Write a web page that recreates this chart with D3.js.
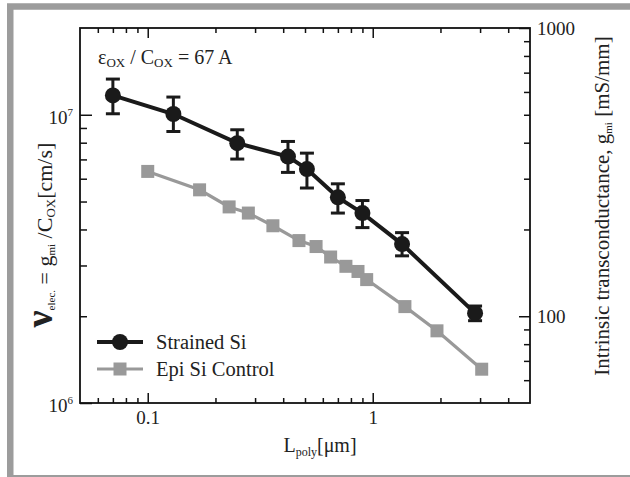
<!DOCTYPE html>
<html>
<head>
<meta charset="utf-8">
<script src="https://cdn.jsdelivr.net/npm/d3@7"></script>
<style>
  body { margin: 0; background: #fff; }
  svg { display: block; font-family: "Liberation Serif", "Times New Roman", serif; }
</style>
</head>
<body>
<div id="chart"></div>
<script>
// Data
var strainedL = [0.07, 0.13, 0.25, 0.42, 0.51, 0.70, 0.90, 1.35, 2.85];
var strainedV = [1.167e7, 1.006e7, 7.97e6, 7.16e6, 6.48e6, 5.17e6, 4.56e6, 3.56e6, 2.05e6];
var strainedHi = [1.33e7, 1.152e7, 8.87e6, 8.08e6, 7.36e6, 5.76e6, 5.04e6, 3.90e6, 2.17e6];
var strainedLo = [1.008e7, 8.75e6, 7.02e6, 6.31e6, 5.57e6, 4.56e6, 4.06e6, 3.24e6, 1.93e6];

var epiL = [0.10, 0.17, 0.23, 0.28, 0.36, 0.47, 0.56, 0.65, 0.76, 0.86, 0.94, 1.39, 1.93, 3.05];
var epiV = [6.36e6, 5.49e6, 4.79e6, 4.56e6, 4.12e6, 3.66e6, 3.49e6, 3.21e6, 2.98e6, 2.86e6, 2.68e6, 2.16e6, 1.78e6, 1.31e6];

var xMajor = [0.1, 1];
var xMinor = [0.06, 0.07, 0.08, 0.09, 0.2, 0.3, 0.4, 0.5, 0.6, 0.7, 0.8, 0.9, 2, 3, 4];
var yMajor = [1e6, 1e7];
var yMinor = [2e6, 3e6, 4e6, 5e6, 6e6, 7e6, 8e6, 9e6];
var rMajor = [100, 1000];
var rMinor = [60, 70, 80, 90, 200, 300, 400, 500, 600, 700, 800, 900];

var legendNames = ["Strained Si", "Epi Si Control"];

var W = 630, H = 477;
// plot box (note: "top" is reserved on window, so use pTop etc.)
var pLeft = 80, pRight = 530, pTop = 28, pBottom = 403;

var svg = d3.select("#chart").append("svg")
    .attr("width", W)
    .attr("height", H);

// gray outer frame (right edge runs off the picture)
svg.append("rect")
    .attr("x", 10.25).attr("y", 6.5)
    .attr("width", 700).attr("height", 471.75)
    .attr("fill", "none")
    .attr("stroke", "#9c9c9c")
    .attr("stroke-width", 6.5);

var x = d3.scaleLog().domain([0.05, 5]).range([pLeft, pRight]);
var y = d3.scaleLog().domain([1e6, 2e7]).range([pBottom, pTop]);
var yR = d3.scaleLog().domain([50, 1000]).range([pBottom, pTop]);

function styleAxis(g) {
    g.select(".domain").remove();
    g.selectAll("line").attr("stroke", "#111").attr("stroke-width", 1.5);
    g.selectAll("text").attr("fill", "#222").style("font-family", "Liberation Serif").style("font-size", "19px");
}

// bottom
svg.append("g").attr("transform", "translate(0," + pBottom + ")")
    .call(d3.axisBottom(x).tickValues(xMajor).tickSize(-10).tickPadding(8).tickFormat(function(d) { return d === 1 ? "1" : "0.1"; }))
    .call(styleAxis);
svg.append("g").attr("transform", "translate(0," + pBottom + ")")
    .call(d3.axisBottom(x).tickValues(xMinor).tickSize(-5).tickFormat(""))
    .call(styleAxis);
// top
svg.append("g").attr("transform", "translate(0," + pTop + ")")
    .call(d3.axisTop(x).tickValues(xMajor).tickSize(-10).tickFormat(""))
    .call(styleAxis);
svg.append("g").attr("transform", "translate(0," + pTop + ")")
    .call(d3.axisTop(x).tickValues(xMinor).tickSize(-5).tickFormat(""))
    .call(styleAxis);
// left
var gl = svg.append("g").attr("transform", "translate(" + pLeft + ",0)")
    .call(d3.axisLeft(y).tickValues(yMajor).tickSize(-12).tickPadding(8).tickFormat(function() { return ""; }))
    .call(styleAxis);
gl.selectAll(".tick text").each(function(d) {
    var t = d3.select(this).attr("x", -7).attr("dy", "0.45em");
    t.append("tspan").text("10");
    t.append("tspan").attr("dy", "-0.75em").style("font-size", "11px").text(Math.round(Math.log10(d)));
});
svg.append("g").attr("transform", "translate(" + pLeft + ",0)")
    .call(d3.axisLeft(y).tickValues(yMinor).tickSize(-7).tickFormat(""))
    .call(styleAxis);
// right
svg.append("g").attr("transform", "translate(" + pRight + ",0)")
    .call(d3.axisRight(yR).tickValues(rMajor).tickSize(-11).tickPadding(7).tickFormat(d3.format("d")))
    .call(styleAxis);
svg.append("g").attr("transform", "translate(" + pRight + ",0)")
    .call(d3.axisRight(yR).tickValues(rMinor).tickSize(-6).tickFormat(""))
    .call(styleAxis);

// plot frame
svg.append("rect")
    .attr("x", pLeft).attr("y", pTop)
    .attr("width", pRight - pLeft).attr("height", pBottom - pTop)
    .attr("fill", "none").attr("stroke", "#111").attr("stroke-width", 1.8);

var line = d3.line().x(function(d) { return x(d[0]); }).y(function(d) { return y(d[1]); });

// Epi Si control
var epi = epiL.map(function(l, i) { return [l, epiV[i]]; });
svg.append("path").datum(epi)
    .attr("d", line).attr("fill", "none")
    .attr("stroke", "#999").attr("stroke-width", 3.2);
svg.selectAll(".sq").data(epi).enter().append("rect")
    .attr("x", function(d) { return x(d[0]) - 6.5; })
    .attr("y", function(d) { return y(d[1]) - 6.5; })
    .attr("width", 13).attr("height", 13)
    .attr("fill", "#999");

// Strained Si
var str = strainedL.map(function(l, i) { return [l, strainedV[i], strainedLo[i], strainedHi[i]]; });
svg.append("path").datum(str)
    .attr("d", line).attr("fill", "none")
    .attr("stroke", "#1a1a1a").attr("stroke-width", 4);
var eb = svg.selectAll(".eb").data(str).enter().append("g").attr("stroke", "#1a1a1a").attr("stroke-width", 3);
eb.append("line")
    .attr("x1", function(d) { return x(d[0]); }).attr("x2", function(d) { return x(d[0]); })
    .attr("y1", function(d) { return y(d[2]); }).attr("y2", function(d) { return y(d[3]); });
eb.append("line")
    .attr("x1", function(d) { return x(d[0]) - 7; }).attr("x2", function(d) { return x(d[0]) + 7; })
    .attr("y1", function(d) { return y(d[2]); }).attr("y2", function(d) { return y(d[2]); });
eb.append("line")
    .attr("x1", function(d) { return x(d[0]) - 7; }).attr("x2", function(d) { return x(d[0]) + 7; })
    .attr("y1", function(d) { return y(d[3]); }).attr("y2", function(d) { return y(d[3]); });
svg.selectAll(".dot").data(str).enter().append("circle")
    .attr("cx", function(d) { return x(d[0]); })
    .attr("cy", function(d) { return y(d[1]); })
    .attr("r", 8).attr("fill", "#1a1a1a");

// legend
var lg = svg.append("g");
lg.append("line").attr("x1", 97).attr("x2", 143).attr("y1", 342).attr("y2", 342)
    .attr("stroke", "#1a1a1a").attr("stroke-width", 4);
lg.append("circle").attr("cx", 120).attr("cy", 342).attr("r", 8).attr("fill", "#1a1a1a");
lg.append("line").attr("x1", 97).attr("x2", 143).attr("y1", 369).attr("y2", 369)
    .attr("stroke", "#999").attr("stroke-width", 3.2);
lg.append("rect").attr("x", 113.5).attr("y", 362.5).attr("width", 13).attr("height", 13).attr("fill", "#999");
lg.selectAll("text").data(legendNames).enter().append("text")
    .attr("x", 156).attr("y", function(d, i) { return 349 + i * 27; })
    .attr("fill", "#222").style("font-size", "20.5px")
    .text(function(d) { return d; });

// annotation
var ann = svg.append("text").attr("x", 98).attr("y", 64).attr("fill", "#222").style("font-size", "20px");
ann.append("tspan").text("ε");
ann.append("tspan").attr("dy", 3).style("font-size", "13px").text("OX");
ann.append("tspan").attr("dy", -3).text(" / C");
ann.append("tspan").attr("dy", 3).style("font-size", "13px").text("OX");
ann.append("tspan").attr("dy", -3).text(" = 67 A");

// x title
var xt = svg.append("text").attr("x", 320).attr("y", 452).attr("text-anchor", "middle")
    .attr("fill", "#222").style("font-size", "20px");
xt.append("tspan").text("L");
xt.append("tspan").attr("dy", 4).style("font-size", "12px").text("poly");
xt.append("tspan").attr("dy", -4).text("[μm]");

// left title
var ytl = svg.append("text").attr("transform", "translate(52,235) rotate(-90)")
    .attr("text-anchor", "middle").attr("fill", "#222").style("font-size", "22px");
ytl.append("tspan").style("font-size", "38px").style("font-weight", "bold").text("ν");
ytl.append("tspan").attr("dy", 3).style("font-size", "11px").text("elec.");
ytl.append("tspan").attr("dy", -3).text(" = g");
ytl.append("tspan").attr("dy", 3).style("font-size", "11px").text("mi");
ytl.append("tspan").attr("dy", -3).text(" /C");
ytl.append("tspan").attr("dy", 3).style("font-size", "13px").text("OX");
ytl.append("tspan").attr("dy", -3).text("[cm/s]");

// right title
var ytr = svg.append("text").attr("transform", "translate(609,206) rotate(-90)")
    .attr("text-anchor", "middle").attr("fill", "#222").style("font-size", "21px");
ytr.append("tspan").text("Intrinsic transconductance, g");
ytr.append("tspan").attr("dy", 3).style("font-size", "11px").text("mi");
ytr.append("tspan").attr("dy", -3).text(" [mS/mm]");
</script>
</body>
</html>
